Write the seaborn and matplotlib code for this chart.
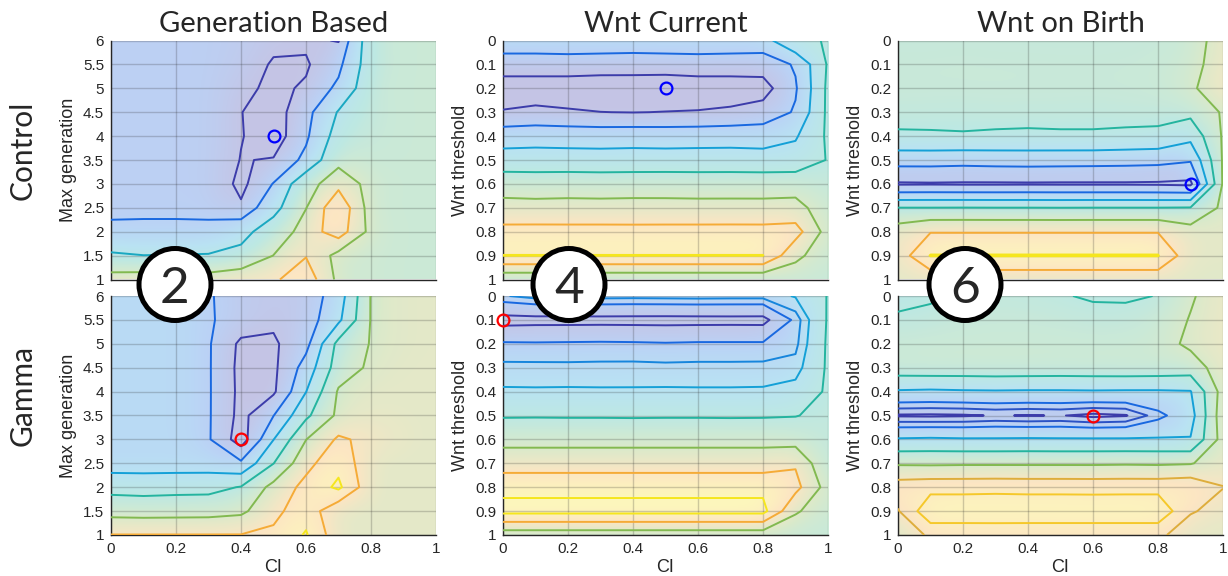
import matplotlib
matplotlib.use("Agg")
import matplotlib.pyplot as plt
from matplotlib.colors import Normalize
from matplotlib.patches import Circle
import seaborn as sns

# ---- values ----
ci = [0, 0.1, 0.2, 0.3, 0.4, 0.5, 0.6, 0.7, 0.8, 0.9, 1.0]
max_gen = [1, 1.5, 2, 2.5, 3, 3.5, 4, 4.5, 5, 5.5, 6]
wnt_thr = [0, 0.1, 0.2, 0.3, 0.4, 0.5, 0.6, 0.7, 0.8, 0.9, 1.0]
ci_ticks = [0, 0.2, 0.4, 0.6, 0.8, 1]

col_titles = ["Generation Based", "Wnt Current", "Wnt on Birth"]
row_titles = ["Control", "Gamma"]
panel_tags = ["2", "4", "6"]

# error surfaces: one row per y value (max generation / Wnt threshold), one column per CI value
gen_control = [
    [5.6, 5.7, 5.7, 5.6, 5.95, 5.85, 6.6, 4.75, 4.6, 4.5, 4.5],
    [3.6, 3.42, 3.45, 3.5, 3.81, 5.02, 5.95, 4.67, 4.6, 4.5, 4.5],
    [2.15, 2.17, 2.17, 2.15, 2.92, 4.2, 5.5, 6.5, 4.71, 4.5, 4.5],
    [1.85, 1.85, 1.85, 1.85, 1.15, 2.91, 4.97, 6.8, 4.55, 4.5, 4.5],
    [1.85, 1.85, 1.85, 1.8, 0.73, 2.05, 4.5, 5.72, 4.63, 4.5, 4.5],
    [1.85, 1.85, 1.85, 1.8, 0.96, 1.06, 2.3, 4.66, 4.45, 4.5, 4.5],
    [1.85, 1.85, 1.85, 1.8, 1.05, 0.5, 1.8, 4.0, 4.35, 4.5, 4.5],
    [1.85, 1.85, 1.85, 1.8, 1.02, 0.6, 1.6, 3.5, 4.3, 4.5, 4.5],
    [1.85, 1.85, 1.85, 1.8, 1.2, 0.82, 1.1, 2.25, 4.4, 4.5, 4.5],
    [1.85, 1.85, 1.85, 1.8, 1.5, 0.9, 0.9, 1.7, 4.2, 4.5, 4.5],
    [1.85, 1.85, 1.85, 1.8, 1.6, 1.23, 1.15, 0.95, 4.3, 4.5, 4.5],
]
gen_gamma = [
    [6.03, 6.03, 6.03, 6.03, 6.03, 6.2, 7.1, 5.33, 5.3, 5.3, 5.3],
    [4.64, 4.6, 4.62, 4.64, 4.8, 5.72, 6.6, 5.2, 5.3, 5.3, 5.3],
    [3.7, 3.65, 3.7, 3.72, 4.05, 5.3, 6.3, 7.2, 5.31, 5.3, 5.3],
    [2.53, 2.53, 2.53, 2.53, 2.18, 3.98, 5.7, 6.7, 5.3, 5.3, 5.3],
    [2.5, 2.5, 2.5, 2.1, 0.5, 2.98, 4.98, 6.15, 5.74, 5.4, 5.3],
    [2.5, 2.5, 2.5, 2.1, 0.7, 1.98, 3.8, 5.2, 5.4, 5.35, 5.3],
    [2.5, 2.5, 2.5, 2.1, 0.75, 0.85, 2.98, 5.1, 5.3, 5.3, 5.3],
    [2.5, 2.5, 2.5, 2.1, 0.72, 0.8, 2.4, 4.5, 5.16, 5.3, 5.3],
    [2.5, 2.5, 2.5, 2.1, 0.8, 0.85, 1.71, 4.3, 5.05, 5.25, 5.3],
    [2.5, 2.5, 2.5, 2.1, 1.6, 1.18, 1.5, 2.8, 5.05, 5.25, 5.3],
    [2.5, 2.5, 2.5, 2.1, 1.5, 1.3, 1.45, 2.49, 5.05, 5.25, 5.3],
]
wnt_cur_control = [
    [2.6, 2.6, 2.6, 2.6, 2.6, 2.6, 2.6, 2.6, 2.6, 3.93, 4.02],
    [1.5, 1.5, 1.55, 1.5, 1.45, 1.5, 1.55, 1.5, 1.45, 2.1, 4.1],
    [0.5, 0.5, 0.45, 0.4, 0.45, 0.35, 0.45, 0.5, 0.6, 1.9, 4.2],
    [1.06, 1.2, 1.1, 1.01, 0.98, 1.02, 1.05, 1.15, 1.4, 2.1, 4.2],
    [2.6, 2.65, 2.62, 2.6, 2.63, 2.6, 2.62, 2.65, 2.6, 2.9, 4.15],
    [3.37, 3.38, 3.37, 3.36, 3.37, 3.37, 3.38, 3.37, 3.36, 3.4, 4.05],
    [4.65, 4.6, 4.63, 4.6, 4.62, 4.63, 4.6, 4.62, 4.6, 4.6, 4.3],
    [5.25, 5.24, 5.25, 5.25, 5.26, 5.25, 5.25, 5.24, 5.25, 5.3, 4.5],
    [6.32, 6.33, 6.32, 6.32, 6.31, 6.32, 6.32, 6.33, 6.32, 6.4, 4.6],
    [7.02, 7.02, 7.02, 7.02, 7.02, 7.02, 7.02, 7.02, 7.02, 5.2, 4.5],
    [4.2, 4.2, 4.2, 4.2, 4.2, 4.2, 4.2, 4.2, 4.2, 4.5, 4.4],
]
wnt_cur_gamma = [
    [2.45, 2.7, 2.72, 2.7, 2.68, 2.7, 2.72, 2.7, 2.7, 3.05, 4.05],
    [0.65, 0.7, 0.7, 0.71, 0.7, 0.69, 0.7, 0.71, 0.7, 2.2, 4.1],
    [2.1, 2.08, 2.1, 2.12, 2.1, 2.06, 2.1, 2.1, 2.1, 2.35, 4.15],
    [2.63, 2.63, 2.62, 2.63, 2.64, 2.62, 2.63, 2.63, 2.64, 2.7, 4.15],
    [3.09, 3.08, 3.09, 3.08, 3.08, 3.09, 3.08, 3.08, 3.09, 3.3, 4.15],
    [3.92, 3.93, 3.92, 3.92, 3.91, 3.92, 3.92, 3.91, 3.92, 3.97, 4.2],
    [4.74, 4.74, 4.74, 4.74, 4.74, 4.74, 4.74, 4.74, 4.74, 4.6, 4.2],
    [5.49, 5.49, 5.49, 5.49, 5.49, 5.49, 5.49, 5.49, 5.49, 5.9, 4.1],
    [6.76, 6.76, 6.76, 6.76, 6.76, 6.76, 6.76, 6.76, 6.76, 6.3, 4.6],
    [7.29, 7.29, 7.29, 7.29, 7.29, 7.29, 7.29, 7.29, 7.29, 5.1, 4.5],
    [4.43, 4.43, 4.43, 4.43, 4.43, 4.43, 4.43, 4.43, 4.43, 4.4, 4.4],
]
wnt_birth_control = [
    [4.3, 4.3, 4.32, 4.3, 4.3, 4.28, 4.3, 4.3, 4.35, 4.5, 5.5],
    [4.4, 4.4, 4.42, 4.4, 4.4, 4.4, 4.38, 4.4, 4.45, 4.6, 5.6],
    [4.4, 4.4, 4.4, 4.42, 4.4, 4.4, 4.4, 4.42, 4.45, 4.8, 5.8],
    [4.25, 4.23, 4.2, 4.25, 4.24, 4.25, 4.2, 4.26, 4.28, 4.25, 5.1],
    [3.9, 3.92, 3.95, 3.9, 3.88, 3.9, 3.92, 3.85, 3.8, 3.3, 5.1],
    [2.4, 2.4, 2.35, 2.4, 2.42, 2.4, 2.38, 2.35, 2.3, 2.1, 5.1],
    [0.9, 0.92, 0.9, 0.9, 0.91, 0.9, 0.9, 0.9, 0.88, 0.8, 5.1],
    [4.02, 4.02, 4.03, 4.02, 4.02, 4.01, 4.02, 4.02, 4.02, 4.05, 5.2],
    [5.5, 5.95, 5.95, 5.95, 5.95, 5.95, 5.95, 5.95, 5.95, 5.4, 5.3],
    [5.4, 7.05, 7.05, 7.05, 7.05, 7.05, 7.05, 7.05, 7.05, 5.3, 5.3],
    [5.3, 5.3, 5.3, 5.3, 5.3, 5.3, 5.3, 5.3, 5.3, 5.2, 5.2],
]
wnt_birth_gamma = [
    [3.75, 3.9, 4.1, 4.2, 4.15, 4.05, 3.92, 3.9, 4.02, 4.9, 5.5],
    [4.13, 4.2, 4.35, 4.4, 4.4, 4.35, 4.24, 4.25, 4.5, 5.05, 5.5],
    [4.45, 4.5, 4.5, 4.5, 4.5, 4.5, 4.5, 4.5, 4.6, 5.2, 5.5],
    [4.55, 4.6, 4.59, 4.62, 4.6, 4.58, 4.6, 4.62, 4.59, 4.5, 5.5],
    [2.9, 2.85, 2.9, 2.92, 2.9, 2.9, 2.92, 2.9, 2.9, 2.95, 5.4],
    [0.92, 0.9, 0.93, 1.04, 0.97, 1.03, 0.85, 0.95, 1.77, 2.6, 5.6],
    [3.1, 3.15, 3.1, 3.1, 3.12, 3.1, 3.1, 3.1, 3.1, 3.05, 5.4],
    [4.9, 4.88, 4.9, 4.9, 4.9, 4.9, 4.9, 4.92, 4.9, 4.95, 5.4],
    [6.2, 6.28, 6.28, 6.3, 6.28, 6.28, 6.27, 6.28, 6.28, 6.37, 5.82],
    [5.75, 7.01, 7.01, 7.02, 7.01, 7.01, 7.01, 7.01, 7.01, 5.88, 5.5],
    [5.0, 5.99, 5.99, 5.99, 5.99, 5.99, 5.99, 5.99, 5.99, 5.3, 5.3],
]

# contour levels drawn in each panel
lv_gen_control = [1, 2, 3.4, 5, 6]
lv_gen_gamma = [1, 2, 3, 4, 5, 6, 7]
lv_cur_control = [1, 2, 3, 4, 5, 6, 7]
lv_cur_gamma = [1, 2, 2.5, 3, 4, 5, 6, 7]
lv_birth_control = [1, 2, 3, 4, 5, 6, 7]
lv_birth_gamma = [1, 1.5, 2, 3, 4, 5, 5.8, 6.5]

# best (CI, parameter) point in each panel
best_gen_control = (0.5, 4)
best_gen_gamma = (0.4, 3)
best_cur_control = (0.5, 0.2)
best_cur_gamma = (0, 0.1)
best_birth_control = (0.9, 0.6)
best_birth_gamma = (0.6, 0.5)

# ---- style ----
sns.set_style("white")
plt.rcParams["font.family"] = ["Liberation Sans", "DejaVu Sans"]

parula_like = ["#3c3caa", "#1969e1", "#14a0d7", "#23b4a0", "#82b950", "#f5aa37", "#f5e61e"]
cmap = sns.blend_palette(parula_like, n_colors=256, as_cmap=True)
norm = Normalize(1, 7)

fig = plt.figure(figsize=(12.28, 5.76), dpi=100)

lefts = [111, 503, 898]
tops = [40.5, 296]
W, H = 1228, 576
aw, ah = 325, 239

panels = [
    [(gen_control, max_gen, lv_gen_control, best_gen_control, "Max generation"),
     (wnt_cur_control, wnt_thr, lv_cur_control, best_cur_control, "Wnt threshold"),
     (wnt_birth_control, wnt_thr, lv_birth_control, best_birth_control, "Wnt threshold")],
    [(gen_gamma, max_gen, lv_gen_gamma, best_gen_gamma, "Max generation"),
     (wnt_cur_gamma, wnt_thr, lv_cur_gamma, best_cur_gamma, "Wnt threshold"),
     (wnt_birth_gamma, wnt_thr, lv_birth_gamma, best_birth_gamma, "Wnt threshold")],
]
marker_cols = ["#0000ff", "#ff0000"]

for r in range(2):
    for c in range(3):
        Z, yv, lv, best, ylab = panels[r][c]
        ax = fig.add_axes([lefts[c] / W, 1 - (tops[r] + ah) / H, aw / W, ah / H])
        dy = yv[1] - yv[0]
        ax.imshow(Z, extent=[-0.05, 1.05, yv[0] - dy / 2, yv[-1] + dy / 2],
                  origin="lower", cmap=cmap, norm=norm, alpha=0.3,
                  interpolation="bicubic", aspect="auto", zorder=0)
        ax.contour(ci, yv, Z, levels=lv, colors=[cmap(norm(v)) for v in lv],
                   linewidths=1.4, zorder=3)
        ax.plot([best[0]], [best[1]], marker="o", ms=8.5, mfc="none",
                mec=marker_cols[r], mew=1.6, ls="none", zorder=6, clip_on=False)

        ax.set_xlim(0, 1)
        if yv is max_gen:
            ax.set_ylim(1, 6)
        else:
            ax.set_ylim(1, 0)
        ax.set_xticks(ci_ticks)
        ax.set_xticklabels([f"{v:g}" for v in ci_ticks])
        ax.set_yticks(yv)
        ax.set_yticklabels([f"{v:g}" for v in yv])
        ax.tick_params(direction="in", length=4, width=0.9, labelsize=11,
                       colors="#262626", pad=5)
        ax.set_axisbelow("line")
        ax.grid(True, color="#262626", alpha=0.22, lw=1.0)
        for s in ["top", "right"]:
            ax.spines[s].set_visible(False)
        for s in ["left", "bottom"]:
            ax.spines[s].set_color("#262626")
            ax.spines[s].set_linewidth(1.0)
        ax.set_ylabel(ylab, fontsize=13, color="#262626", labelpad=4)
        if r == 0:
            ax.tick_params(labelbottom=False)
        else:
            ax.set_xlabel("CI", fontsize=13, color="#262626", labelpad=2)

# column titles and row labels
for c, t in enumerate(col_titles):
    fig.text((lefts[c] + aw / 2) / W, 1 - 32 / H, t, ha="center", va="baseline",
             fontsize=21, family=["Lato", "DejaVu Sans"])
for r, t in enumerate(row_titles):
    fig.text(23 / W, 1 - [150, 395][r] / H, t, rotation=90, ha="center", va="center",
             fontsize=21.5, family=["Lato", "DejaVu Sans"])

# numbered circles between the rows
for tag, cx in zip(panel_tags, [175, 569, 965]):
    circ = Circle((cx / 100, (H - 284.5) / 100), 0.36, transform=fig.dpi_scale_trans,
                  fc="white", ec="black", lw=3.6, zorder=10)
    fig.add_artist(circ)
    fig.text(cx / W, 1 - 284.5 / H, tag, ha="center", va="center_baseline",
             fontsize=37, family=["Lato", "DejaVu Sans"], zorder=11)

fig.savefig("out.png", dpi=100)
